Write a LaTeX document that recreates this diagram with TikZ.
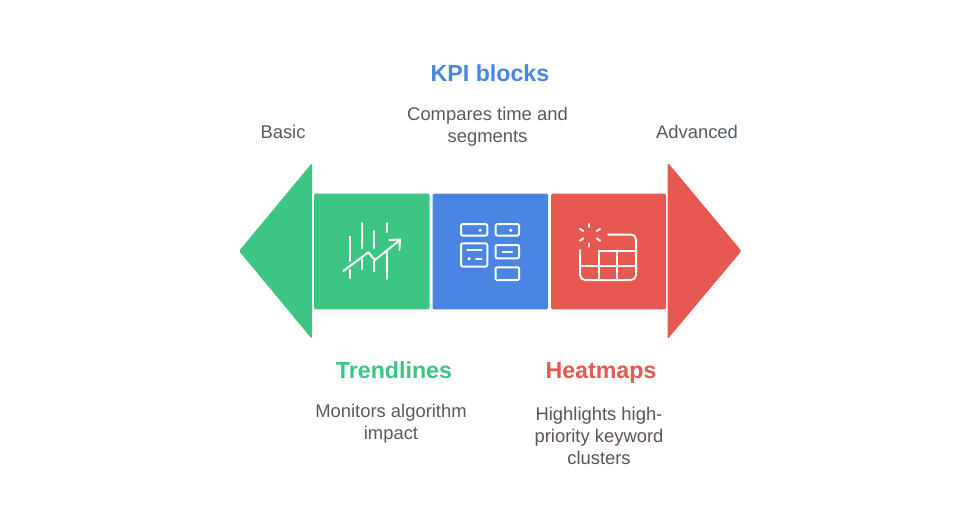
\documentclass[tikz,border=0pt]{standalone}
\usepackage{fontspec}
\setmainfont{Liberation Sans}
\definecolor{cgreen}{HTML}{3DC583}
\definecolor{cblue}{HTML}{4A85E4}
\definecolor{cred}{HTML}{E65850}
\definecolor{ctext}{HTML}{555B63}
\definecolor{ctextr}{HTML}{5E5252}
\tikzset{
  panel/.style={rounded corners=1.5pt,line width=0pt},
  tip/.style={line join=round,rounded corners=1.5pt},
  ico/.style={draw=white,line width=2pt,line cap=round,line join=round},
  heading/.style={font=\fontsize{23.2}{26}\selectfont\bfseries,align=center,inner sep=0pt,anchor=base},
  body/.style={font=\fontsize{18.4}{21.8}\selectfont,align=center,inner sep=0pt,text=ctext,anchor=base},
}
\begin{document}
\begin{tikzpicture}[x=1pt,y=-1pt]
\useasboundingbox (0,0) rectangle (980,517);
\fill[white] (0,0) rectangle (980,517);
% arrow heads
\fill[cgreen,tip] (312,163) -- (239,251) -- (312,339) -- cycle;
\fill[cred,tip] (667.7,162.5) -- (741.5,251) -- (667.7,339) -- cycle;
% panels
\fill[cgreen,panel] (314,193.5) rectangle (429.5,309.3);
\fill[cblue,panel] (432.5,193.5) rectangle (548,309.3);
\fill[cred,panel] (551,193.5) rectangle (666,309.3);
% green icon
\draw[ico] (350,236.5) -- (350,261) (350,270) -- (350,278);
\draw[ico] (362.3,223) -- (362.3,248) (362.3,259) -- (362.3,269);
\draw[ico] (374.3,231) -- (374.3,248) (374.3,261) -- (374.3,271.5);
\draw[ico] (386.7,223) -- (386.7,232) (386.7,250) -- (386.7,279);
\draw[ico] (343.3,271) -- (368.3,252.3) -- (375,260) -- (400,240);
\draw[ico] (389.3,240) -- (400,239.5) -- (399.3,250);
% blue icon
\begin{scope}[ico]
\draw[rounded corners=2pt] (461,224) rectangle (487.3,235.7);
\draw[rounded corners=2pt] (461,243.3) rectangle (487.3,266.7);
\draw[rounded corners=2pt] (495.7,224) rectangle (519,235.7);
\draw[rounded corners=1pt] (495.7,245) rectangle (519,258.3);
\draw[rounded corners=1pt] (495.7,267.3) rectangle (519,280);
\draw (467.3,250) -- (481.7,250) (476,259.3) -- (481.7,259.3) (502.3,251.7) -- (512.3,251.7);
\end{scope}
\fill[white] (480,230.3) circle (1.8) (510.7,230.3) circle (1.8) (469,258.8) circle (1.8);
% red icon
\begin{scope}[ico]
\draw[rounded corners=5pt] (608,234.5) -- (636,234.5) -- (636,280) -- (580,280) -- (580,250);
\draw (580,266) -- (636,266) (598.5,250.5) -- (636,250.5);
\draw (598.5,250.5) -- (598.5,280) (617,250.5) -- (617,280);
\draw (589.3,224) -- (589.3,227) (589.3,243.5) -- (589.3,246.7);
\draw (580,229) -- (583.3,231) (596.7,231) -- (600,229);
\draw (580,240.7) -- (583.3,238.3) (596.7,238.3) -- (600,240.7);
\end{scope}
% text
\node[heading,text=cblue] (kpi) at (490,81.7) {KPI blocks};
\node[body] (kpid) at (487.5,142.5) {Compares time and\\segments};
\node[body] (basic) at (283,138.8) {Basic};
\node[body] (adv) at (697,138.8) {Advanced};
\node[heading,text=cgreen] (trend) at (394,378.3) {Trendlines};
\node[body] (trendd) at (391,439) {Monitors algorithm\\impact};
\node[heading,text=cred] (heat) at (601,378.3) {Heatmaps};
\node[body,text=ctextr] (heatd) at (599,464.3) {Highlights high-\\priority keyword\\clusters};
\end{tikzpicture}
\end{document}
